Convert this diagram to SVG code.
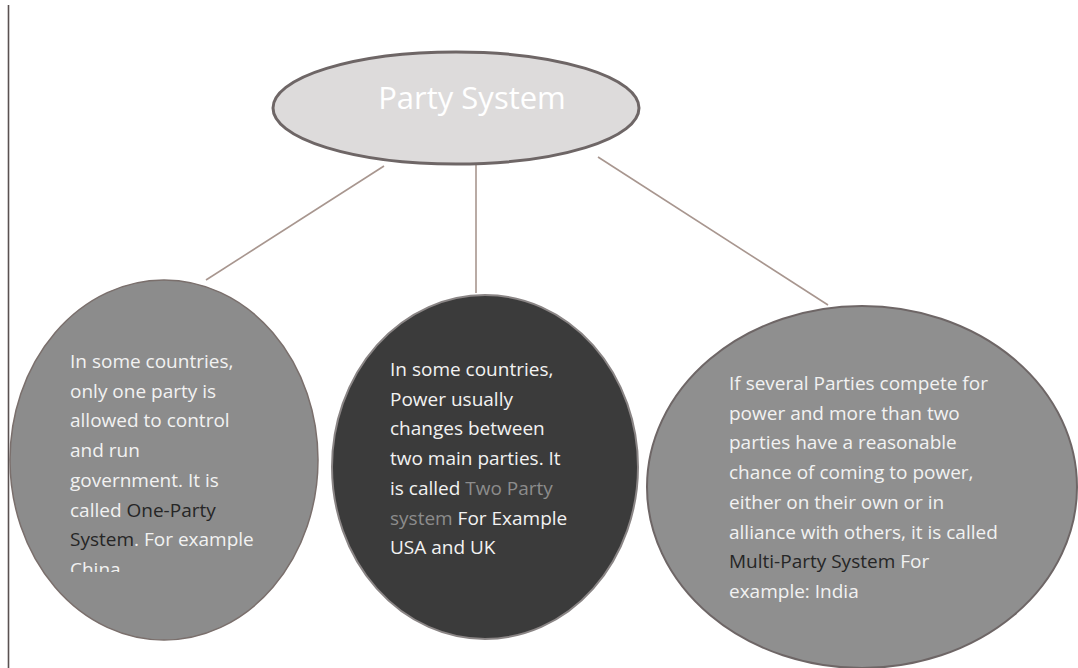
<svg xmlns="http://www.w3.org/2000/svg" width="1078" height="668" viewBox="0 0 1078 668">
<style>
.t{font-family:"Open Sans","Liberation Sans",sans-serif;font-size:19px;fill:#f2f2f2}
.dk{fill:#262626}
.md{fill:#8c8c8c}
.ttl{font-family:"Open Sans","Liberation Sans",sans-serif;font-size:31px;fill:#ffffff}
.conn{stroke:#a8968f;stroke-width:1.6;fill:none}
</style>
<defs>
<clipPath id="clipChina"><rect x="0" y="0" width="330" height="572"/></clipPath>
</defs>
<rect width="1078" height="668" fill="#ffffff"/>
<line x1="8.5" y1="5" x2="8.5" y2="668" stroke="#5a5252" stroke-width="1.6"/>
<g id="connectors">
<line class="conn" x1="384" y1="166" x2="206" y2="280"/>
<line class="conn" x1="476" y1="165" x2="476" y2="293"/>
<line class="conn" x1="598" y1="157" x2="828" y2="305"/>
</g>
<g id="party-system">
<ellipse cx="456" cy="108" rx="183" ry="56" fill="#dddbdb" stroke="#6e6666" stroke-width="3"/>
<text class="ttl" x="472" y="109" text-anchor="middle">Party System</text>
</g>
<g id="one-party">
<ellipse cx="164" cy="460" rx="154" ry="180" fill="#8c8c8c" stroke="#7a6f6c" stroke-width="1.5"/>
<text class="t" x="70" y="368">In some countries,</text>
<text class="t" x="70" y="397.7">only one party is</text>
<text class="t" x="70" y="427.4">allowed to control</text>
<text class="t" x="70" y="457.1">and run</text>
<text class="t" x="70" y="486.8">government. It is</text>
<text class="t" x="70" y="516.5">called <tspan class="dk">One-Party</tspan></text>
<text class="t" x="70" y="546.2"><tspan class="dk">System</tspan>. For example</text>
<text class="t" x="70" y="575.9" clip-path="url(#clipChina)">China</text>
</g>
<g id="two-party">
<ellipse cx="485" cy="467" rx="153" ry="172" fill="#3b3b3b" stroke="#8a8585" stroke-width="2"/>
<text class="t" x="390" y="376">In some countries,</text>
<text class="t" x="390" y="405.7">Power usually</text>
<text class="t" x="390" y="435.4">changes between</text>
<text class="t" x="390" y="465.1">two main parties. It</text>
<text class="t" x="390" y="494.8">is called <tspan class="md">Two Party</tspan></text>
<text class="t" x="390" y="524.5"><tspan class="md">system</tspan> For Example</text>
<text class="t" x="390" y="554.2">USA and UK</text>
</g>
<g id="multi-party">
<ellipse cx="862" cy="487" rx="215" ry="181" fill="#8f8f8f" stroke="#6e6666" stroke-width="2"/>
<text class="t" x="729" y="390">If several Parties compete for</text>
<text class="t" x="729" y="419.7">power and more than two</text>
<text class="t" x="729" y="449.4">parties have a reasonable</text>
<text class="t" x="729" y="479.1">chance of coming to power,</text>
<text class="t" x="729" y="508.8">either on their own or in</text>
<text class="t" x="729" y="538.5">alliance with others, it is called</text>
<text class="t" x="729" y="568.2"><tspan class="dk">Multi-Party System</tspan> For</text>
<text class="t" x="729" y="597.9">example: India</text>
</g>
</svg>
